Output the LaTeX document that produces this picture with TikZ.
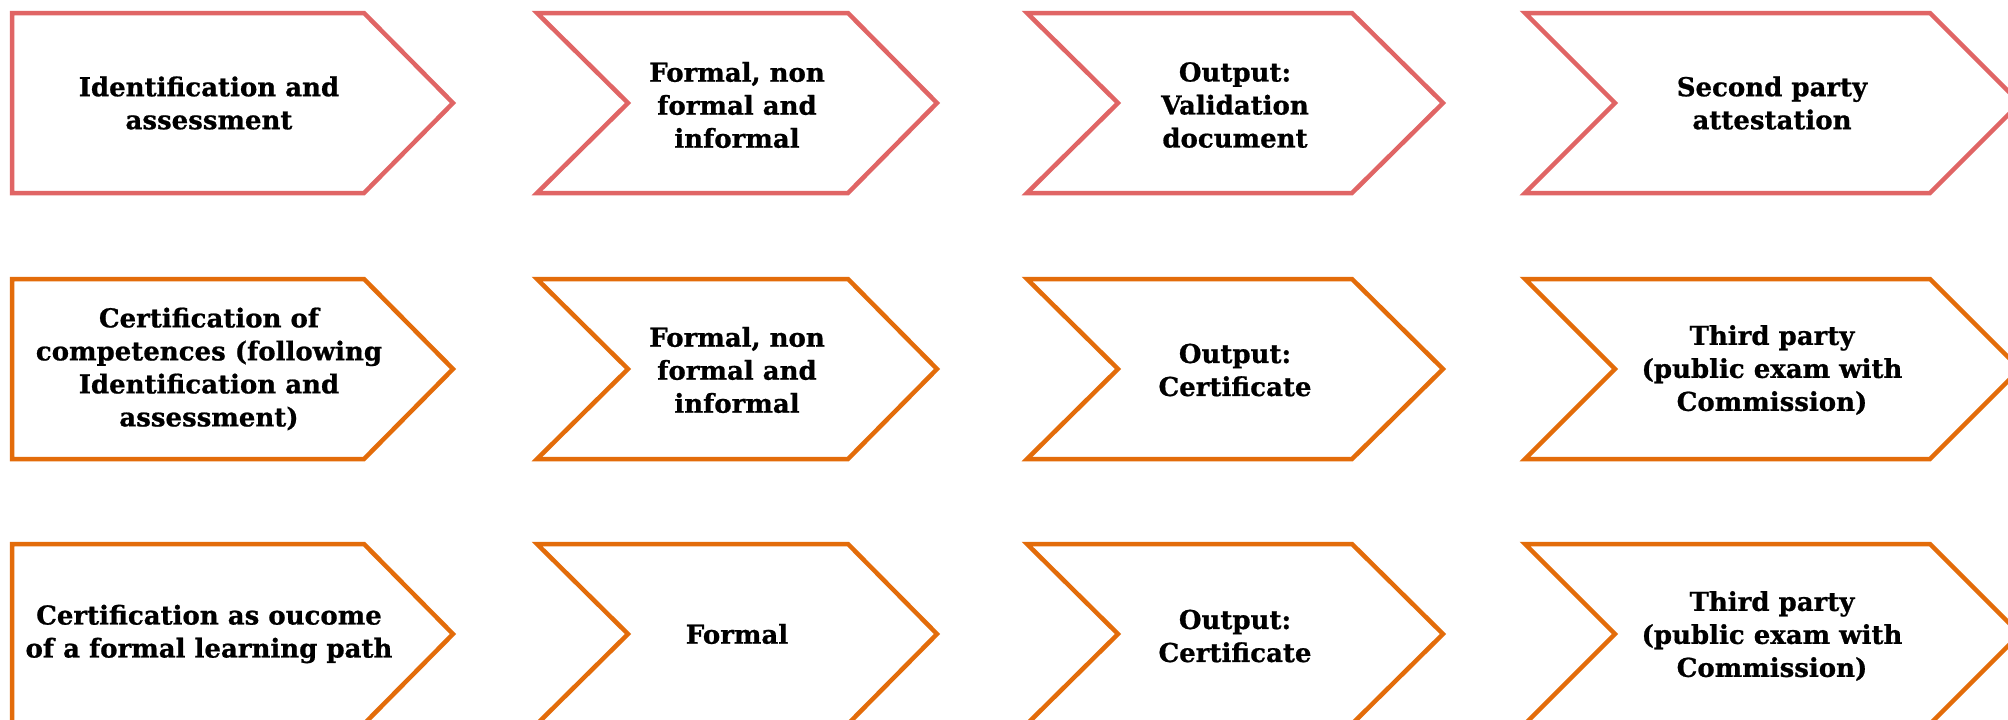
\documentclass[tikz,border=0pt]{standalone}
\usepackage{fontspec}
\setmainfont{DejaVu Serif}[BoldFeatures={FakeBold=0.8}]
\definecolor{chevred}{RGB}{224,101,101}
\definecolor{chevorange}{RGB}{227,108,10}
\tikzset{
  chev/.style={line width=4.5pt, line join=miter, fill=white},
  lbl/.style={align=center, inner sep=0pt, text=black,
    font=\bfseries\fontsize{26}{33}\selectfont}
}
\begin{document}
\begin{tikzpicture}[x=1pt,y=-1pt]
\useasboundingbox (0,0) rectangle (2008,720);
\clip (0,0) rectangle (2008,720);
\fill[white] (0,0) rectangle (2008,720);
% rows: tops 13, 279, 544 ; height 180
\foreach \t/\c in {13/chevred, 279/chevorange, 544/chevorange}{
  \pgfmathsetmacro{\m}{\t+90}
  \pgfmathsetmacro{\b}{\t+180}
  \draw[chev, draw=\c] (12,\t) -- (364,\t) -- (453,\m) -- (364,\b) -- (12,\b) -- cycle;
  \draw[chev, draw=\c] (537,\t) -- (848,\t) -- (937,\m) -- (848,\b) -- (537,\b) -- (628,\m) -- cycle;
  \draw[chev, draw=\c] (1027,\t) -- (1352,\t) -- (1443,\m) -- (1352,\b) -- (1027,\b) -- (1118,\m) -- cycle;
  \draw[chev, draw=\c] (1525,\t) -- (1930,\t) -- (2020,\m) -- (1930,\b) -- (1525,\b) -- (1615,\m) -- cycle;
}
% row 1
\node[lbl] (a1) at (209,103) {Identification and\\assessment};
\node[lbl] (a2) at (737,105) {Formal, non\\formal and\\informal};
\node[lbl] (a3) at (1235,105) {Output:\\Validation\\document};
\node[lbl] (a4) at (1772,103) {Second party\\attestation};
% row 2
\node[lbl] (b1) at (209,369) {Certification of\\competences (following\\Identification and\\assessment)};
\node[lbl] (b2) at (737,370) {Formal, non\\formal and\\informal};
\node[lbl] (b3) at (1235,370) {Output:\\Certificate};
\node[lbl] (b4) at (1772,370) {Third party\\(public exam with\\Commission)};
% row 3
\node[lbl] (c1) at (209,634) {Certification as oucome\\of a formal learning path};
\node[lbl] (c2) at (737,634) {Formal};
\node[lbl] (c3) at (1235,636) {Output:\\Certificate};
\node[lbl] (c4) at (1772,636) {Third party\\(public exam with\\Commission)};
\end{tikzpicture}
\end{document}
